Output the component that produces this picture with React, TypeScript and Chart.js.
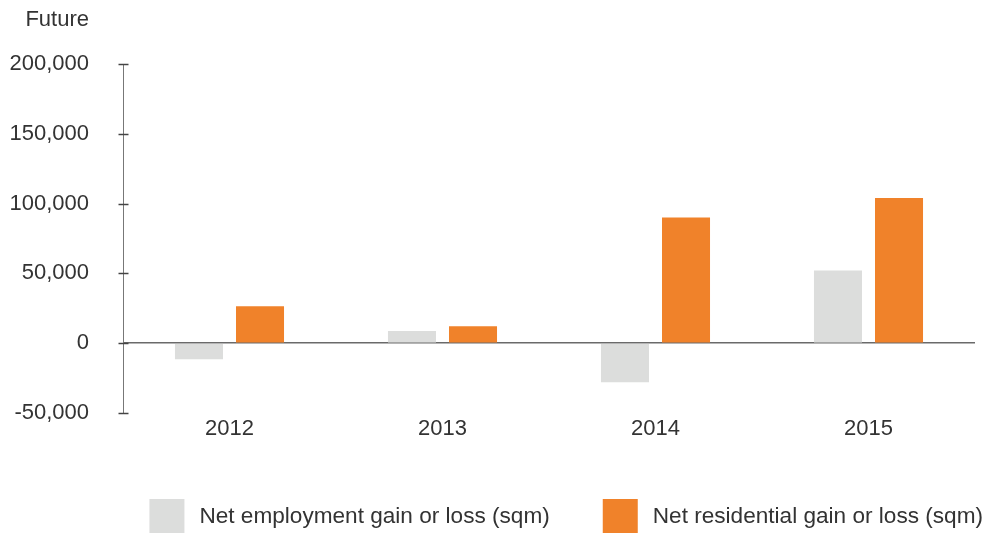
import React, { useEffect, useRef } from "react";
import { Chart, registerables } from "chart.js";

Chart.register(...registerables);

const categories = ["2012", "2013", "2014", "2015"];
const employmentLabel = "Net employment gain or loss (sqm)";
const residentialLabel = "Net residential gain or loss (sqm)";
const employment = [-11500, 8700, -28000, 52000];
const residential = [26500, 12200, 90000, 104000];
const yTicks = [-50000, 0, 50000, 100000, 150000, 200000];
const axisTitle = "Future";

const GRAY = "#dcdddc";
const ORANGE = "#f0822a";
const TEXT = "#333333";
const AXIS = "#6a6a6a";
const FONT = "'Liberation Sans', Arial, sans-serif";
const FS = 22;
const LEG_FS = 22.6;

const extrasPlugin = {
  id: "extras",
  afterDraw(chart: any) {
    const ctx = chart.ctx;
    const y = chart.scales.y;
    ctx.save();
    // cross tick marks on y axis
    ctx.strokeStyle = "#444444";
    ctx.lineWidth = 1.5;
    const ax = Math.round(y.right) + 0.5;
    yTicks.forEach((v) => {
      const py = Math.round(y.getPixelForValue(v)) + 0.5;
      ctx.beginPath();
      ctx.moveTo(ax - 5, py);
      ctx.lineTo(ax + 5, py);
      ctx.stroke();
    });
    // "Future" title
    ctx.fillStyle = TEXT;
    ctx.font = `${FS}px ${FONT}`;
    ctx.textAlign = "right";
    ctx.textBaseline = "middle";
    ctx.fillText(axisTitle, y.right - 34, 20);
    // legend
    ctx.font = `${LEG_FS}px ${FONT}`;
    const items = chart.data.datasets.map((d: any) => ({
      label: d.label,
      color: d.backgroundColor,
      w: ctx.measureText(d.label).width,
    }));
    const boxW = 35, boxH = 34, textOff = 50, gap = 53;
    const total = items.reduce((s: number, it: any) => s + textOff + it.w, 0) + gap * (items.length - 1);
    let x = chart.width - 2 - total;
    const top = 499;
    ctx.textAlign = "left";
    items.forEach((it: any) => {
      ctx.fillStyle = it.color;
      ctx.fillRect(x, top, boxW, boxH);
      ctx.fillStyle = TEXT;
      ctx.fillText(it.label, x + textOff, top + boxH / 2 + 1);
      x += textOff + it.w + gap;
    });
    ctx.restore();
  },
};

export default function App() {
  const ref = useRef<HTMLCanvasElement>(null);
  useEffect(() => {
    if (!ref.current) return;
    const chart = new Chart(ref.current, {
      type: "bar",
      data: {
        labels: categories,
        datasets: [
          { label: employmentLabel, data: employment, backgroundColor: GRAY, categoryPercentage: 0.573, barPercentage: 0.787 },
          { label: residentialLabel, data: residential, backgroundColor: ORANGE, categoryPercentage: 0.573, barPercentage: 0.787 },
        ],
      },
      options: {
        animation: false,
        responsive: true,
        maintainAspectRatio: false,
        layout: { padding: { top: 64, right: 10, left: 0, bottom: 0 } },
        plugins: { legend: { display: false }, tooltip: { enabled: false } },
        scales: {
          x: {
            grid: { display: false, drawTicks: false },
            border: { display: false },
            ticks: { color: TEXT, font: { family: FONT, size: FS }, padding: 3 },
            afterFit(scale: any) { scale.height = 121; },
          },
          y: {
            min: -50000,
            max: 200000,
            afterBuildTicks(scale: any) { scale.ticks = yTicks.map((v) => ({ value: v })); },
            grid: {
              drawTicks: false,
              lineWidth: (c: any) => (c.tick && c.tick.value === 0 ? 1.5 : 1),
              color: (c: any) => (c.tick && c.tick.value === 0 ? AXIS : "transparent"),
            },
            border: { display: true, color: "#777777", width: 1 },
            ticks: {
              color: TEXT,
              font: { family: FONT, size: FS },
              padding: 34,
              callback: (v: any) => Number(v).toLocaleString("en-US"),
            },
            afterFit(scale: any) { scale.width = 123; },
          },
        },
      },
      plugins: [extrasPlugin],
    });
    return () => chart.destroy();
  }, []);
  return (
    <div style={{ position: "absolute", left: 0, top: 0, width: 985, height: 534 }}>
      <canvas ref={ref} />
    </div>
  );
}
